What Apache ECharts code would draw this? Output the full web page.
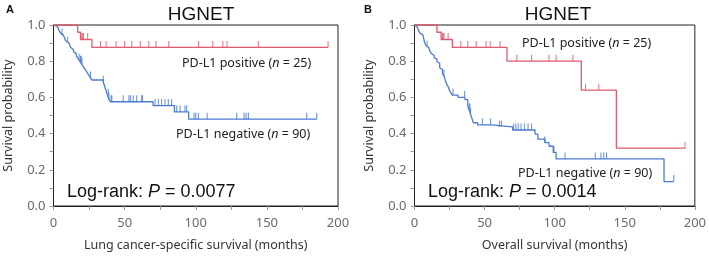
<!DOCTYPE html>
<html>
<head>
<meta charset="utf-8">
<script src="https://cdn.jsdelivr.net/npm/echarts@6/dist/echarts.min.js"></script>
<style>
	html, body { margin: 0; padding: 0; background: #fff; }
	#km { width: 709px; height: 257px; }
</style>
</head>
<body>
<div id="km"></div>
<script>
// A: lung cancer-specific survival
const aPosTime = [0, 17, 19, 27, 193];
const aPosSurv = [1.0, 0.96, 0.92, 0.876, 0.876];
const aPosCens = [20, 20.5, 21, 24, 33, 37, 44, 50, 55, 61, 67, 72, 81, 102, 112, 119, 122, 144, 193];

const aNegTime = [0, 1, 3, 4, 5, 6, 7, 8, 9, 10, 11, 12, 13, 14, 15, 16, 17, 18, 19, 20, 21, 22, 23, 24, 25, 26, 27, 35, 36, 37, 38, 39, 40, 70, 85, 95, 185];
const aNegSurv = [1.0, 0.989, 0.978, 0.967, 0.955, 0.944, 0.933, 0.922, 0.91, 0.899, 0.888, 0.876, 0.865, 0.853, 0.842, 0.83, 0.818, 0.806, 0.794, 0.782, 0.77, 0.758, 0.746, 0.733, 0.72, 0.708, 0.696, 0.684, 0.66, 0.636, 0.612, 0.588, 0.576, 0.555, 0.52, 0.48, 0.48];
const aNegCens = [6, 10, 18, 19, 19.5, 20, 26, 35, 38.5, 39, 40.5, 41, 49, 53, 54, 56, 58.5, 62, 62.5, 71.4, 73.7, 76, 78.4, 80.7, 83, 86.6, 89, 92.4, 93.6, 98.8, 100, 101.8, 108, 128.8, 134, 135.4, 137, 178, 185];

// B: overall survival
const bPosTime = [0, 16, 19, 27, 66, 119, 144, 193];
const bPosSurv = [1.0, 0.96, 0.92, 0.876, 0.8, 0.64, 0.32, 0.32];
const bPosCens = [20, 20.5, 21, 24, 33, 38, 44, 51, 54, 61, 73, 83.5, 96, 101, 113, 122, 131.5, 193];

const bNegTime = [0, 1, 2, 3, 4, 5, 6, 7, 8, 9, 10, 11, 12, 13, 14, 15, 16, 17, 18, 19, 20, 21, 22, 23, 24, 25, 26, 27, 31, 36, 38, 39, 40, 41, 42, 45, 55, 70, 86, 88, 93, 96, 99, 101, 178, 185];
const bNegSurv = [1.0, 0.989, 0.978, 0.967, 0.955, 0.944, 0.933, 0.91, 0.888, 0.877, 0.866, 0.855, 0.843, 0.832, 0.82, 0.81, 0.798, 0.787, 0.764, 0.753, 0.73, 0.718, 0.695, 0.672, 0.66, 0.637, 0.625, 0.613, 0.6, 0.588, 0.553, 0.53, 0.506, 0.483, 0.46, 0.448, 0.437, 0.42, 0.397, 0.37, 0.35, 0.33, 0.296, 0.26, 0.135, 0.135];
const bNegCens = [9, 21, 27.5, 35.7, 39, 39.5, 40, 48.4, 54.3, 60.6, 62, 70.7, 72.3, 74, 76, 78.4, 81, 83.5, 93, 99.5, 107.4, 129, 133, 135, 137, 185];

const xTicks = [0, 50, 100, 150, 200];
const yTicks = [0, 0.2, 0.4, 0.6, 0.8, 1.0];

const RED = "#e2596c";
const BLUE = "#4a7bd4";

// survival value at time t (step function)
function survAt(times, surv, t) {
	let s = surv[0];
	for (let i = 0; i < times.length; i++) {
		if (times[i] <= t) s = surv[i];
	}
	return s;
}

function kmLine(times, surv, color, idx) {
	return {
		type: "line",
		step: "end",
		xAxisIndex: idx,
		yAxisIndex: idx,
		symbol: "none",
		lineStyle: { width: 1.3, color: color },
		data: times.map((t, i) => [t, surv[i]]),
		animation: false,
		z: 3,
	};
}

function kmCensor(times, surv, cens, color, idx) {
	return {
		type: "scatter",
		xAxisIndex: idx,
		yAxisIndex: idx,
		symbol: "rect",
		symbolSize: [1.1, 6.5],
		symbolOffset: [0, -3.2],
		itemStyle: { color: color },
		data: cens.map((t) => [t, survAt(times, surv, t)]),
		animation: false,
		z: 4,
	};
}

function xAxisFor(idx, name) {
	return {
		gridIndex: idx,
		type: "value",
		min: 0,
		max: 200,
		interval: 50,
		name: name,
		nameLocation: "middle",
		nameGap: 33,
		nameTextStyle: { fontFamily: "Noto Sans", fontSize: 12.5, color: "#333" },
		axisLine: { show: true, lineStyle: { color: "#222", width: 1 } },
		axisTick: { show: true, length: 4, lineStyle: { color: "#999" } },
		minorTick: { show: true, splitNumber: 2, length: 4, lineStyle: { color: "#999" } },
		axisLabel: {
			margin: 11,
			fontFamily: "Noto Sans",
			fontSize: 13,
			color: "#6a6a6a",
			customValues: xTicks,
		},
		splitLine: { show: false },
	};
}

function yAxisFor(idx) {
	return {
		gridIndex: idx,
		type: "value",
		min: 0,
		max: 1,
		interval: 0.2,
		name: "Survival probability",
		nameLocation: "middle",
		nameGap: 39,
		nameRotate: 90,
		nameTextStyle: { fontFamily: "Noto Sans", fontSize: 12.5, color: "#333" },
		axisLine: { show: true, lineStyle: { color: "#222", width: 1 } },
		axisTick: { show: true, length: 4, lineStyle: { color: "#999" } },
		minorTick: { show: true, splitNumber: 2, length: 4, lineStyle: { color: "#999" } },
		axisLabel: {
			margin: 8,
			fontFamily: "Noto Sans",
			fontSize: 13,
			color: "#6a6a6a",
			formatter: (v) => (yTicks.includes(Math.round(v * 10) / 10) ? v.toFixed(1) : ""),
		},
		splitLine: { show: false },
	};
}

function note(x, y, parts) {
	// parts: label text with rich italic pieces
	return {
		type: "text",
		x: x,
		y: y,
		style: {
			text: parts,
			verticalAlign: "middle",
			font: "12.5px 'Noto Sans'",
			fill: "#222",
			rich: {
				it: { fontFamily: "Noto Sans", fontStyle: "italic", fontSize: 12.5, fill: "#222" },
				n: { fontFamily: "Noto Sans", fontSize: 12.5, fill: "#222" },
				big: { fontFamily: "Liberation Sans", fontSize: 18, fill: "#111" },
				bigit: { fontFamily: "Liberation Sans", fontStyle: "italic", fontSize: 18, fill: "#111" },
			},
		},
		z: 10,
	};
}

function kmChart() {
	let dom = document.getElementById("km");
	let myChart = echarts.init(dom, null, { renderer: "canvas" });

	let option = {
		animation: false,
		title: [
			{
				text: "HGNET",
				left: 196,
				top: 0,
				textAlign: "center",
				textStyle: { fontFamily: "Liberation Sans", fontSize: 19, fontWeight: "normal", color: "#111" },
			},
			{
				text: "HGNET",
				left: 553,
				top: 0,
				textAlign: "center",
				textStyle: { fontFamily: "Liberation Sans", fontSize: 19, fontWeight: "normal", color: "#111" },
			},
		],
		grid: [
			{ left: 53.5, right: 371, top: 25, bottom: 50, show: true, borderColor: "#222", borderWidth: 1 },
			{ left: 414.5, right: 10, top: 25, bottom: 50, show: true, borderColor: "#222", borderWidth: 1 },
		],
		xAxis: [
			xAxisFor(0, "Lung cancer-specific survival (months)"),
			xAxisFor(1, "Overall survival (months)"),
		],
		yAxis: [yAxisFor(0), yAxisFor(1)],
		series: [
			kmLine(aNegTime, aNegSurv, BLUE, 0),
			kmCensor(aNegTime, aNegSurv, aNegCens, BLUE, 0),
			kmLine(aPosTime, aPosSurv, RED, 0),
			kmCensor(aPosTime, aPosSurv, aPosCens, RED, 0),
			kmLine(bNegTime, bNegSurv, BLUE, 1),
			kmCensor(bNegTime, bNegSurv, bNegCens, BLUE, 1),
			kmLine(bPosTime, bPosSurv, RED, 1),
			kmCensor(bPosTime, bPosSurv, bPosCens, RED, 1),
		],
		graphic: [
			{ type: "text", x: 6, y: 4, style: { text: "A", font: "bold 11px 'Liberation Sans'", fill: "#111" } },
			{ type: "text", x: 364, y: 4, style: { text: "B", font: "bold 11px 'Liberation Sans'", fill: "#111" } },
			note(182, 63, "{n|PD-L1 positive (}{it|n}{n| = 25)}"),
			note(176, 134, "{n|PD-L1 negative (}{it|n}{n| = 90)}"),
			note(67, 192, "{big|Log-rank: }{bigit|P}{big| = 0.0077}"),
			note(522, 43, "{n|PD-L1 positive (}{it|n}{n| = 25)}"),
			note(518, 173, "{n|PD-L1 negative (}{it|n}{n| = 90)}"),
			note(428, 192, "{big|Log-rank: }{bigit|P}{big| = 0.0014}"),
		],
	};

	myChart.setOption(option);
	window.addEventListener("resize", myChart.resize);
}

(function init() {
	kmChart();
})();
</script>
</body>
</html>
